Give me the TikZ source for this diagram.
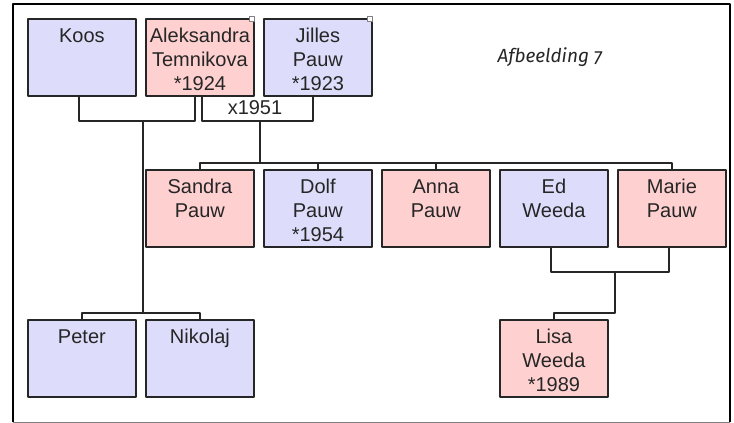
\documentclass[tikz,border=0pt]{standalone}
\usepackage{fontspec}
\setmainfont{Liberation Sans}
\newfontfamily\bijschrift[Numbers=OldStyle]{Fira Sans}
\definecolor{roze}{RGB}{255,208,208}
\definecolor{blauw}{RGB}{221,221,251}
\tikzset{
	persoon/.style={draw=black!85,line width=1.8pt,anchor=north west,minimum width=108pt,minimum height=77pt,inner sep=0pt,text width=106pt,align=center,text height=24pt,text depth=53pt,font=\fontsize{20}{24}\selectfont,text=black!85},
	man/.style={persoon,fill=blauw},
	vrouw/.style={persoon,fill=roze},
	lijn/.style={line width=1.8pt,black!85},
	hoekje/.style={draw=gray,fill=white,line width=0.8pt,minimum size=5pt,inner sep=0pt}
}
\begin{document}
\begin{tikzpicture}[x=1pt,y=-1pt,line join=round]
		\useasboundingbox (0,0) rectangle (734,423);
		%==Kader
		\draw[line width=2pt] (13,422)--(13,4)--(730,4)--(730,422);
		\draw[gray] (13,422)--(730,422);
		%==Personen
		\def\dx{118}
		\node[man] (Koos) at (27,18) {Koos};
		\node[vrouw] (Alek) at (27+\dx,18) {Aleksandra\\Temnikova\\{*}1924};
		\node[man] (Jil) at (27+2*\dx,18) {Jilles\\Pauw\\{*}1923};
		\node[vrouw] (San) at (27+\dx,169) {Sandra\\Pauw};
		\node[man] (Dolf) at (27+2*\dx,169) {Dolf\\Pauw\\{*}1954};
		\node[vrouw] (Anna) at (27+3*\dx,169) {Anna\\Pauw};
		\node[man] (Ed) at (27+4*\dx,169) {Ed\\Weeda};
		\node[vrouw] (Marie) at (27+5*\dx,169) {Marie\\Pauw};
		\node[man] (Peter) at (27,319) {Peter};
		\node[man] (Nik) at (27+\dx,319) {Nikolaj};
		\node[vrouw] (Lisa) at (27+4*\dx,319) {Lisa\\Weeda\\{*}1989};
		\node[hoekje] (hA) at ([xshift=-3pt,yshift=-1pt]Alek.north east) {};
		\node[hoekje] (hJ) at ([xshift=-3pt,yshift=-1pt]Jil.north east) {};
		\node[font=\bijschrift\itshape\fontsize{19}{21}\selectfont,text=black!85] (Afb) at (550,57) {Afbeelding 7};
		%==Lijnen
		\draw[lijn] ([xshift=-3pt]Koos.south) |- (195,121)coordinate(H1) -- (H1|-Alek.south);
		\draw[lijn] ([xshift=2pt]Alek.south) |- (313,121)coordinate(H2) -- (H2|-Jil.south);
		\node[font=\fontsize{20}{24}\selectfont,text=black!85,inner sep=1pt] (Hw) at (255,108) {x1951};
		\draw[lijn] (143,121)coordinate(K1) -- (143,313)coordinate(K2);
		\draw[lijn] (Peter.north) |- (K2) -| (Nik.north);
		\draw[lijn] (260,121)coordinate(K3) -- (260,163)coordinate(K4);
		\draw[lijn] (San.north) |- (K4) -| (Marie.north);
		\draw[lijn] (Dolf.north)--++(0,-6);
		\draw[lijn] (Anna.north)--++(0,-6);
		\draw[lijn] ([xshift=-3pt]Ed.south) |- (615,272)coordinate(K5) -| ([xshift=-3pt]Marie.south);
		\draw[lijn] (K5)--(615,313) -| (Lisa.north);
		\end{tikzpicture}
\end{document}
